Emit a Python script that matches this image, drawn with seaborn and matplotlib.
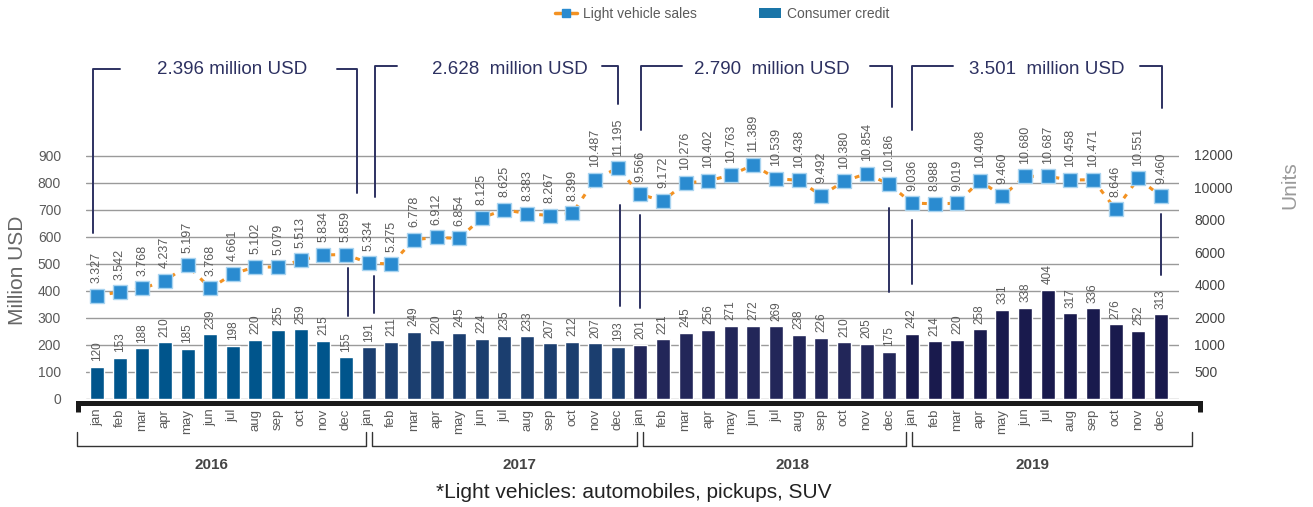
import pandas as pd
import matplotlib.pyplot as plt
import seaborn as sns
from matplotlib.lines import Line2D
from matplotlib.patches import Patch

# data
months = ['jan', 'feb', 'mar', 'apr', 'may', 'jun', 'jul', 'aug', 'sep', 'oct', 'nov', 'dec']
years = ['2016', '2017', '2018', '2019']
credit_2016 = [120, 153, 188, 210, 185, 239, 198, 220, 255, 259, 215, 155]
credit_2017 = [191, 211, 249, 220, 245, 224, 235, 233, 207, 212, 207, 193]
credit_2018 = [201, 221, 245, 256, 271, 272, 269, 238, 226, 210, 205, 175]
credit_2019 = [242, 214, 220, 258, 331, 338, 404, 317, 336, 276, 252, 313]
sales_2016 = [3327, 3542, 3768, 4237, 5197, 3768, 4661, 5102, 5079, 5513, 5834, 5859]
sales_2017 = [5334, 5275, 6778, 6912, 6854, 8125, 8625, 8383, 8267, 8399, 10487, 11195]
sales_2018 = [9566, 9172, 10276, 10402, 10763, 11389, 10539, 10438, 9492, 10380, 10854, 10186]
sales_2019 = [9036, 8988, 9019, 10408, 9460, 10680, 10687, 10458, 10471, 8646, 10551, 9460]
totals = ['2.396 million USD', '2.628  million USD', '2.790  million USD', '3.501  million USD']
right_ticks = [12000, 10000, 8000, 6000, 4000, 2000]
right_low_labels = ['1000', '500']

credit = credit_2016 + credit_2017 + credit_2018 + credit_2019
sales = sales_2016 + sales_2017 + sales_2018 + sales_2019
df = pd.DataFrame({
    'idx': range(48),
    'month': months * 4,
    'year': [y for y in years for _ in months],
    'credit': credit,
    'sales': sales,
})

bar_colors = ['#00558c', '#1b3e6f', '#222659', '#191a4d']
orange = '#f39222'
gray = '#5a5a5a'
navy = '#2d3161'

sns.set_style('white')
plt.rcParams['font.family'] = ['Liberation Sans', 'DejaVu Sans']
narrow = ['Liberation Sans Narrow', 'Liberation Sans', 'DejaVu Sans']

fig = plt.figure(figsize=(13.13, 5.07), dpi=100)
XL, XR, YTOP = -0.486, 47.8, 1329.6
ax = fig.add_axes([86 / 1313, 108 / 507, 1093 / 1313, 359 / 507])


def px_x(p):
    return XL + (p - 86) / 1093 * (XR - XL)


def px_y(p):
    return (399 - p) / 359 * YTOP


# left axis -> units mapping of the line axis
U0, U12 = 183.3, 903.7


def to_units(v):
    return (v - U0) * 12000 / (U12 - U0)


sns.barplot(data=df, x='idx', y='credit', hue='year', palette=bar_colors,
            dodge=False, width=0.62, legend=False, ax=ax, saturation=1)
for c in ax.containers:
    ax.bar_label(c, rotation=90, padding=4, fontsize=8.5, color=gray)

ax.set_ylim(0, YTOP)
ax.set_yticks(range(0, 1000, 100))
ax.yaxis.grid(True, color='#9a9a9a', lw=1)
ax.set_axisbelow(True)
ax.tick_params(axis='y', length=0, pad=18, labelsize=10, labelcolor=gray)
ax.set_xticks(range(48))
ax.set_xticklabels(df['month'], rotation=90)
ax.tick_params(axis='x', length=0, pad=7, labelsize=9.5, labelcolor=gray)
ax.set_xlabel('')
ax.set_ylabel('')
for s in ax.spines.values():
    s.set_visible(False)
fig.text(18 / 1313, 1 - 270 / 507, 'Million USD', rotation=90, ha='center', va='center',
         fontsize=15, color='#666666')

ax2 = ax.twinx()
sns.lineplot(data=df, x='idx', y='sales', ax=ax2, color=orange, lw=2.2,
             linestyle=(0, (1.6, 2.6)), marker='s', markersize=10,
             markerfacecolor='#2a8bd0', markeredgecolor='#a9d4f0', markeredgewidth=1)
for i, v in enumerate(sales):
    ax2.annotate(f'{v / 1000:.3f}', (i, v), xytext=(0, 9), textcoords='offset points',
                 rotation=90, ha='center', va='bottom', fontsize=9, color=gray)
ax2.set_ylim(to_units(0), to_units(YTOP))
ax2.set_yticks(right_ticks + [to_units(200), to_units(100)])
ax2.set_yticklabels([str(t) for t in right_ticks] + right_low_labels)
ax2.tick_params(axis='y', length=0, pad=11, labelsize=10, labelcolor='#444444')
ax2.set_xlabel('')
ax2.set_ylabel('')
for s in ax2.spines.values():
    s.set_visible(False)
ax.set_xlim(XL, XR)
fig.text(1290 / 1313, 1 - 185 / 507, 'Units', rotation=90, ha='center', va='center',
         fontsize=15, color='#9a9a9a')

# total brackets on top
brackets = [
    # left x, left bottom, left hook end, right hook start, right x, right bottom, top, text x
    (93, 233, 120, 337, 357, 193, 69, 232, [(348, 268, 316)]),
    (375, 197, 397, 602, 618, 104, 66, 510, [(374, 276, 313), (620, 205, 306)]),
    (641, 130, 682, 870, 892, 107, 66, 772, [(640, 215, 308), (889, 208, 292)]),
    (912, 130, 953, 1140, 1162, 108, 66, 1047, [(912, 220, 284), (1161, 214, 275)]),
]
lk = dict(color=navy, lw=1.4, clip_on=False)
for (xl, yl, hl, hr, xr, yr, yt, tx, extra), label in zip(brackets, totals):
    ax.plot([px_x(xl), px_x(xl), px_x(hl)], [px_y(yl), px_y(yt), px_y(yt)], **lk)
    ax.plot([px_x(hr), px_x(xr), px_x(xr)], [px_y(yt), px_y(yt), px_y(yr)], **lk)
    for ex, y0, y1 in extra:
        ax.plot([px_x(ex), px_x(ex)], [px_y(y0), px_y(y1)], **lk)
    ax.text(px_x(tx), px_y(70), label, ha='center', va='center', fontsize=13.5, color=navy)

# black base bracket
ax.plot([px_x(78), px_x(78), px_x(1200), px_x(1200)],
        [px_y(412), px_y(403), px_y(403), px_y(412)],
        color='#1a1a1a', lw=3.6, clip_on=False, solid_capstyle='butt', solid_joinstyle='miter')

# year brackets
year_spans = [(77, 366, 211), (372, 637, 519), (643, 906, 793), (912, 1192, 1032)]
for (a, b, tx), yr in zip(year_spans, years):
    ax.plot([px_x(a), px_x(a), px_x(b), px_x(b)], [px_y(432), px_y(446), px_y(446), px_y(432)],
            color='#333333', lw=1, clip_on=False)
    ax.text(px_x(tx), px_y(465), yr, ha='center', va='center', fontsize=11,
            fontweight='bold', color='#444444', family=narrow)

fig.text(634 / 1313, 1 - 493 / 507, '*Light vehicles: automobiles, pickups, SUV',
         ha='center', va='center', fontsize=15, color='#222222', family=narrow)

handles = [Line2D([], [], color=orange, lw=2.5, marker='s', markersize=6,
                  markerfacecolor='#2a8bd0', markeredgecolor='#2a8bd0'),
           Patch(facecolor='#1a75a8', edgecolor='none')]
leg = fig.legend(handles, ['Light vehicle sales', 'Consumer credit'], loc='center',
                 bbox_to_anchor=(722 / 1313, 1 - 14 / 507), ncol=2, frameon=False,
                 columnspacing=4.5, handlelength=1.6, handletextpad=0.4,
                 prop={'family': narrow, 'size': 10})
for t in leg.get_texts():
    t.set_color(gray)

plt.savefig('out.png', dpi=100)
